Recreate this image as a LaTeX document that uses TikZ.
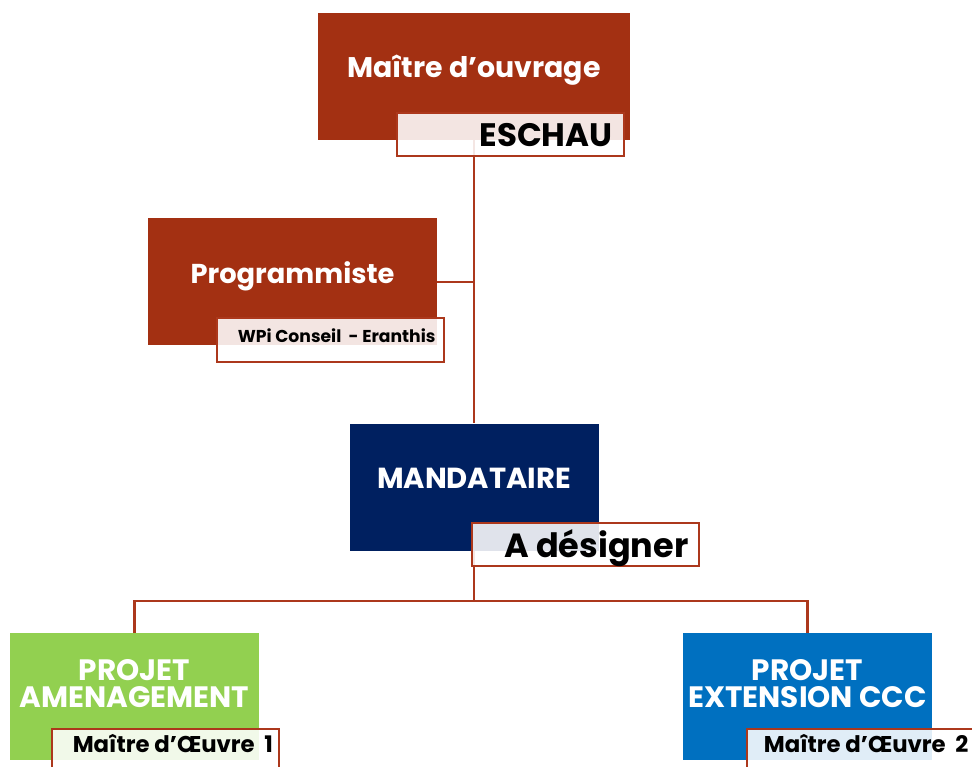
\documentclass[tikz,border=0pt]{standalone}
\usepackage{fontspec}
\setmainfont{Poppins}
\usetikzlibrary{backgrounds}
\definecolor{moared}{RGB}{163,48,18}
\definecolor{mandnavy}{RGB}{0,32,96}
\definecolor{amengreen}{RGB}{146,208,80}
\definecolor{extblue}{RGB}{0,112,192}
\definecolor{linered}{RGB}{172,56,28}

\begin{document}
\begin{tikzpicture}[x=1pt,y=-1pt,
        bigbox/.style={rectangle, inner sep=0pt, minimum height=127pt},
        tagbox/.style={rectangle, inner sep=0pt, draw=linered, line width=2pt,
            fill=white, fill opacity=0.88, minimum width=227pt, minimum height=43pt},
        title/.style={text=white, align=center, anchor=base},
        tagtext/.style={text=black, anchor=base east},
        link/.style={draw=linered, line width=2.6pt}]
    \useasboundingbox (0,0) rectangle (972,767);
    \clip (0,0) rectangle (972,767);

    % boxes
    \node[bigbox, fill=moared, minimum width=312pt] (maitre) at (474,76.5) {};
    \node[bigbox, fill=moared, minimum width=289pt] (prog) at (292.5,282) {};
    \node[bigbox, fill=mandnavy, minimum width=249pt] (mand) at (474,487) {};
    \node[bigbox, fill=amengreen, minimum width=249pt] (amen) at (134.5,696.5) {};
    \node[bigbox, fill=extblue, minimum width=249pt] (ext) at (807.5,696.5) {};

    \node[title, font=\bfseries\fontsize{28.4}{30}\selectfont] (maitreT) at ([yshift=-1.5pt]maitre.center) {Maître d’ouvrage};
    \node[title, font=\bfseries\fontsize{27.3}{30}\selectfont] (progT) at ([yshift=-2pt]prog.center) {Programmiste};
    \node[title, font=\bfseries\fontsize{29}{30}\selectfont] (mandT) at ([yshift=-1pt]mand.center) {MANDATAIRE};
    \node[title, anchor=center, font=\bfseries\fontsize{29.5}{27}\selectfont] (amenT) at ([yshift=13pt]amen.center) {PROJET\\AMENAGEMENT};
    \node[title, anchor=center, font=\bfseries\fontsize{29.5}{27}\selectfont] (extT) at ([yshift=13pt]ext.center) {PROJET\\EXTENSION CCC};

    % tags
    \node[tagbox] (eschau) at (510.5,135) {};
    \node[tagbox] (wpi) at (330.5,340) {};
    \node[tagbox] (designer) at (585.5,544.5) {};
    \node[tagbox] (moe1) at (165,750.5) {};
    \node[tagbox] (moe2) at (860.5,750.5) {};

    \node[tagtext, font=\bfseries\fontsize{32.5}{34}\selectfont] (eschauT) at ([xshift=-9pt,yshift=-12pt]eschau.east) {ESCHAU};
    \node[tagtext, font=\bfseries\fontsize{17.2}{20}\selectfont] (wpiT) at ([xshift=-6pt,yshift=-3pt]wpi.east) {WPi Conseil~~- Eranthis};
    \node[tagtext, font=\bfseries\fontsize{33.5}{36}\selectfont] (designerT) at ([xshift=-8pt,yshift=-12.5pt]designer.east) {A désigner};
    \node[tagtext, font=\bfseries\fontsize{22.8}{25}\selectfont] (moe1T) at ([xshift=-3pt,yshift=-1.5pt]moe1.east) {Maître d’Œuvre~~1};
    \node[tagtext, font=\bfseries\fontsize{22.8}{25}\selectfont] (moe2T) at ([xshift=-3pt,yshift=-1.5pt]moe2.east) {Maître d’Œuvre~~2};

    % links
    \begin{scope}[on background layer]
        \draw[link] (maitre.south) -- (mand.north);
        \draw[link] (prog.east) -- (prog.east -| maitre.south);
        \coordinate (bus) at (474,601);
        \draw[link] (mand.south) -- (bus);
        \draw[link] (amen.north) |- (bus) -| (ext.north);
    \end{scope}
\end{tikzpicture}
\end{document}
